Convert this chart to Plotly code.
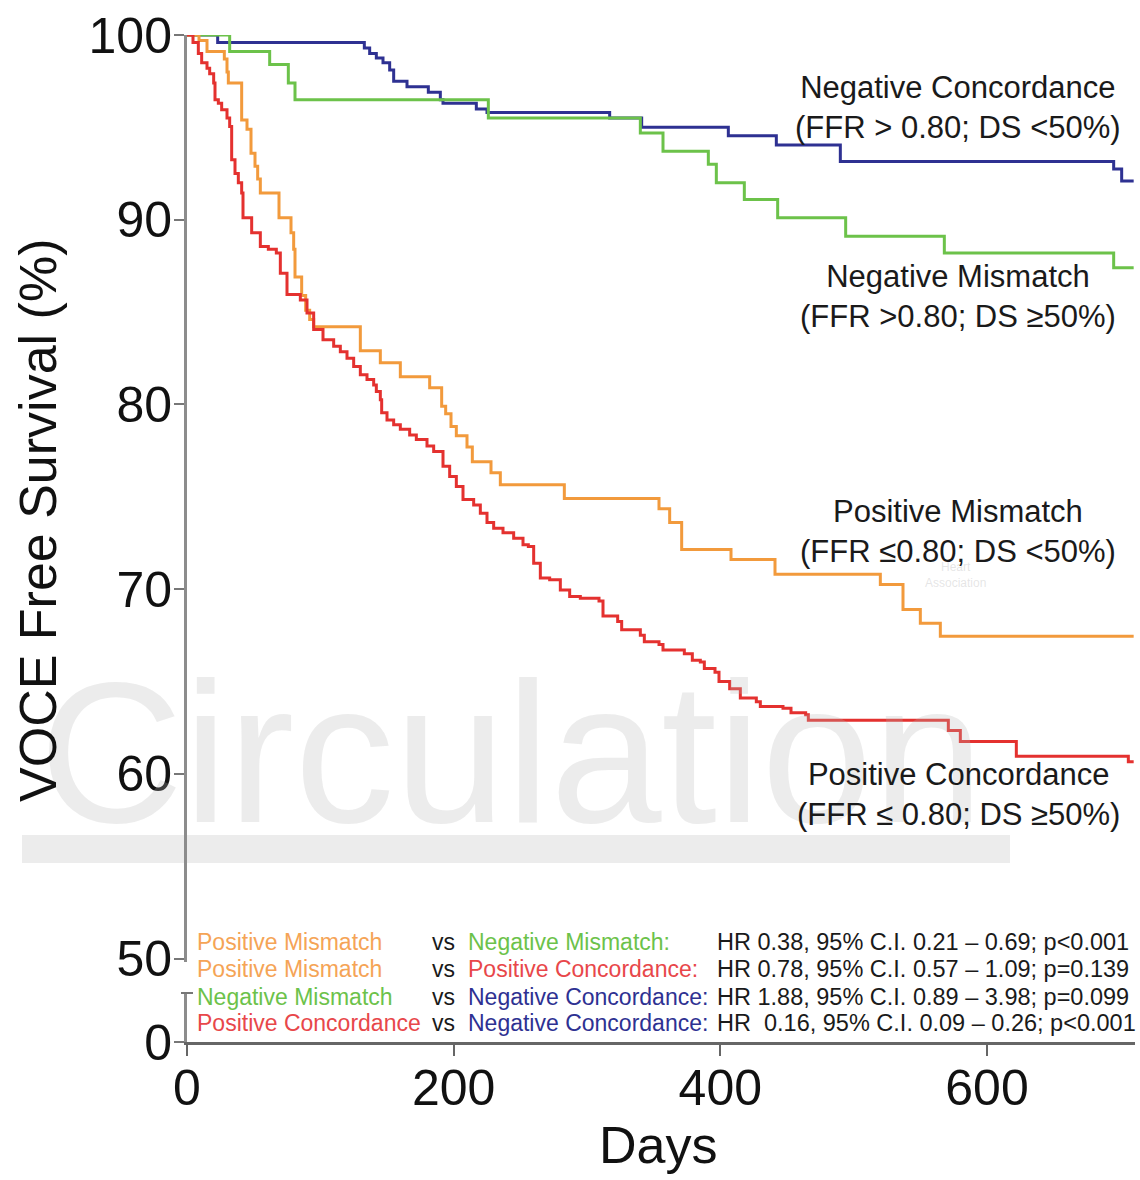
import plotly.graph_objects as go

# ---------------- data ----------------
days_neg_conc = [0, 23, 133, 137, 142, 147, 152, 155, 165, 181, 190, 192, 217, 225, 317, 341, 406, 442, 490, 695, 701, 710]
surv_neg_conc = [100, 99.6, 99.3, 99.0, 98.75, 98.5, 98.1, 97.5, 97.2, 96.9, 96.5, 96.3, 96.0, 95.8, 95.5, 95.0, 94.55, 94.05, 93.15, 92.75, 92.1, 92.1]

days_neg_mis = [0, 32, 62, 76, 81, 226, 340, 357, 391, 397, 418, 443, 494, 568, 695, 710]
surv_neg_mis = [100, 99.1, 98.4, 97.4, 96.5, 95.5, 94.7, 93.7, 93.0, 92.0, 91.1, 90.1, 89.1, 88.2, 87.4, 87.4]

days_pos_mis = [0, 9, 15, 28, 30, 31, 41, 45, 48, 51,
                53, 55, 69, 78, 80, 81, 86, 89, 92, 95,
                130, 145, 160, 182, 191, 194, 198, 202, 210, 214,
                228, 235, 283, 354, 362, 371, 408, 441, 520, 537,
                550, 565, 710]
surv_pos_mis = [100, 99.7, 99.1, 98.7, 98.0, 97.4, 95.4, 94.9, 93.6, 92.9,
                92.2, 91.45, 90.1, 89.3, 88.4, 86.9, 85.9, 85.1, 84.6, 84.2,
                82.9, 82.25, 81.5, 80.9, 79.9, 79.5, 78.8, 78.3, 77.7, 76.9,
                76.3, 75.65, 74.9, 74.35, 73.6, 72.15, 71.6, 70.8, 70.25, 68.9,
                68.15, 67.45, 67.45]

days_pos_conc = [0, 4.5, 8.5, 11, 15, 17, 20, 21, 23.5, 26,
                 30, 32, 33.5, 36, 38.5, 41, 42, 48.5, 55, 61,
                 67, 70, 75, 85, 90, 95, 102, 110, 115, 120,
                 125, 130, 135, 140, 142, 145, 146, 150, 155, 160,
                 167, 172, 180, 185, 192, 197, 202, 207, 215, 220,
                 225, 230, 237, 245, 252, 256, 260, 265, 272, 280,
                 287, 295, 309, 312, 323, 326, 340, 343, 354, 357,
                 373, 379, 385, 388, 396, 399, 407, 415, 427, 430,
                 447, 453, 464, 466, 571, 580, 622, 706, 710]
surv_pos_conc = [100, 99.6, 99.0, 98.5, 98.2, 97.9, 97.4, 96.5, 96.3, 95.95,
                 95.5, 95.05, 93.25, 92.5, 92.0, 91.45, 90.1, 89.3, 88.55, 88.4,
                 88.2, 87.1, 85.95, 85.65, 84.95, 84.05, 83.5, 83.15, 82.85, 82.5,
                 82.05, 81.6, 81.35, 81.05, 80.7, 80.25, 79.55, 79.15, 78.9, 78.65,
                 78.35, 78.1, 77.75, 77.45, 76.65, 76.1, 75.55, 74.85, 74.55, 74.1,
                 73.6, 73.3, 73.05, 72.75, 72.4, 72.3, 71.4, 70.6, 70.5, 69.95,
                 69.6, 69.5, 69.35, 68.55, 68.25, 67.8, 67.5, 67.15, 67.0, 66.7,
                 66.5, 66.15, 66.05, 65.7, 65.5, 65.0, 64.6, 64.1, 63.9, 63.65,
                 63.55, 63.3, 63.2, 62.9, 62.35, 61.75, 60.95, 60.65, 60.65]

y_ticks_main = [50, 60, 70, 80, 90, 100]
y_ticks_low = [0]
x_ticks = [0, 200, 400, 600]

group_labels = ["Negative Concordance<br>(FFR > 0.80; DS <50%)",
                "Negative Mismatch<br>(FFR >0.80; DS \u226550%)",
                "Positive Mismatch<br>(FFR \u22640.80; DS <50%)",
                "Positive Concordance<br>(FFR \u2264 0.80; DS \u226550%)"]

cmp_left = ["Positive Mismatch", "Positive Mismatch", "Negative Mismatch", "Positive Concordance"]
cmp_right = ["Negative Mismatch:", "Positive Concordance:", "Negative Concordance:", "Negative Concordance:"]
cmp_stats = ["HR 0.38, 95% C.I. 0.21 \u2013 0.69; p<0.001",
             "HR 0.78, 95% C.I. 0.57 \u2013 1.09; p=0.139",
             "HR 1.88, 95% C.I. 0.89 \u2013 3.98; p=0.099",
             "HR  0.16, 95% C.I. 0.09 \u2013 0.26; p<0.001"]

# ---------------- styling ----------------
C_BLUE = "#2e3192"
C_GREEN = "#6cc24a"
C_ORANGE = "#f29a3c"
C_RED = "#e4312f"
TXT_COL = {"Negative Concordance": "#2e3192", "Negative Mismatch": "#6cc24a",
           "Positive Mismatch": "#f5a456", "Positive Concordance": "#e8474a"}
FONT = "Liberation Sans, Arial, Helvetica, sans-serif"

W, H = 1140, 1180
PX_L, PX_R, PX_T, PX_B = 187, 1135, 35, 1042


def px_x(px):
    return (px - PX_L) / (PX_R - PX_L)


def px_y(py):
    return (PX_B - py) / (PX_B - PX_T)


fig = go.Figure()
series = [(days_neg_conc, surv_neg_conc, C_BLUE, "Negative Concordance"),
          (days_neg_mis, surv_neg_mis, C_GREEN, "Negative Mismatch"),
          (days_pos_mis, surv_pos_mis, C_ORANGE, "Positive Mismatch"),
          (days_pos_conc, surv_pos_conc, C_RED, "Positive Concordance")]
for d, s, c, n in series:
    fig.add_trace(go.Scatter(x=d, y=s, mode="lines", name=n,
                             line=dict(color=c, width=3, shape="hv"),
                             cliponaxis=False, showlegend=False,
                             xaxis="x", yaxis="y"))

# invisible trace so the lower (broken) axis segment is drawn
fig.add_trace(go.Scatter(x=[0], y=[0], mode="markers", marker=dict(size=1, opacity=0),
                         hoverinfo="skip", showlegend=False, xaxis="x", yaxis="y2"))

main_bottom_px = 962
px_per_unit = (958.5 - PX_T) / 50.0
main_range_low = 50 - (main_bottom_px - 958.5) / px_per_unit

annotations = []
# watermark
annotations.append(dict(text="Circulation", x=px_x(511), y=px_y(752), xref="paper", yref="paper",
                        showarrow=False, xanchor="center", yanchor="middle",
                        font=dict(family=FONT, size=200, color="rgba(180,180,180,0.26)")))
annotations.append(dict(text="Heart<br>Association", x=px_x(955), y=px_y(575), xref="paper", yref="paper",
                        showarrow=False, xanchor="center", yanchor="middle",
                        font=dict(family=FONT, size=12, color="rgba(180,180,180,0.35)")))

# group labels
label_centers_y = [107.5, 296.5, 531, 794]
for txt, cy in zip(group_labels, label_centers_y):
    annotations.append(dict(text=txt, x=px_x(958), y=px_y(cy), xref="paper", yref="paper",
                            showarrow=False, xanchor="center", yanchor="middle", align="center",
                            font=dict(family=FONT, size=31, color="#1a1a1a")))

# comparison table
row_y = [942, 969, 997, 1023]
for i in range(4):
    yy = px_y(row_y[i])
    annotations.append(dict(text=cmp_left[i], x=px_x(195), y=yy, xref="paper", yref="paper",
                            showarrow=False, xanchor="left", yanchor="middle",
                            font=dict(family=FONT, size=23, color=TXT_COL[cmp_left[i]])))
    annotations.append(dict(text="vs", x=px_x(430), y=yy, xref="paper", yref="paper",
                            showarrow=False, xanchor="left", yanchor="middle",
                            font=dict(family=FONT, size=23, color="#1a1a1a")))
    annotations.append(dict(text=cmp_right[i], x=px_x(466), y=yy, xref="paper", yref="paper",
                            showarrow=False, xanchor="left", yanchor="middle",
                            font=dict(family=FONT, size=23, color=TXT_COL[cmp_right[i].rstrip(':')])))
    annotations.append(dict(text=cmp_stats[i], x=px_x(715), y=yy, xref="paper", yref="paper",
                            showarrow=False, xanchor="left", yanchor="middle",
                            font=dict(family=FONT, size=23.5, color="#1a1a1a")))

# axis titles
annotations.append(dict(text="VOCE Free Survival (%)", x=px_x(38), y=px_y(521), xref="paper", yref="paper",
                        showarrow=False, textangle=-90, xanchor="center", yanchor="middle",
                        font=dict(family=FONT, size=52, color="#111111")))
annotations.append(dict(text="Days", x=px_x(658), y=px_y(1145), xref="paper", yref="paper",
                        showarrow=False, xanchor="center", yanchor="middle",
                        font=dict(family=FONT, size=52, color="#111111")))

shapes = [
    # watermark bar
    dict(type="rect", xref="paper", yref="paper", x0=px_x(22), x1=px_x(1010), y0=px_y(863), y1=px_y(835),
         fillcolor="#ececec", line=dict(width=0), layer="below"),
    # axis break tick
    dict(type="line", xref="paper", yref="paper", x0=px_x(181), x1=px_x(193), y0=px_y(993), y1=px_y(993),
         line=dict(color="#777777", width=2)),
]

tickfont = dict(family=FONT, size=50, color="#111111")
fig.update_layout(
    width=W, height=H,
    margin=dict(l=PX_L, r=W - PX_R, t=PX_T, b=H - PX_B),
    paper_bgcolor="white", plot_bgcolor="white",
    font=dict(family=FONT),
    showlegend=False,
    xaxis=dict(domain=[0, 1], range=[0, (PX_R - PX_L) / ((987 - 187) / 600)], anchor="y2",
               tickmode="array", tickvals=x_ticks, ticks="outside", ticklen=11, tickwidth=2,
               tickcolor="#666666", showline=True, linecolor="#666666", linewidth=3,
               showgrid=False, zeroline=False, tickfont=tickfont, ticklabelstandoff=-11),
    yaxis=dict(domain=[px_y(main_bottom_px), 1], range=[main_range_low, 100], anchor="x",
               tickmode="array", tickvals=y_ticks_main, ticks="outside", ticklen=10, tickwidth=2,
               tickcolor="#777777", showline=True, linecolor="#8c8c8c", linewidth=3,
               showgrid=False, zeroline=False, tickfont=tickfont, ticklabelstandoff=-8),
    yaxis2=dict(domain=[0, px_y(993)], range=[0, 1], anchor="x",
                tickmode="array", tickvals=y_ticks_low, ticks="outside", ticklen=10, tickwidth=2,
                tickcolor="#777777", showline=True, linecolor="#8c8c8c", linewidth=3,
                showgrid=False, zeroline=False, tickfont=tickfont, ticklabelstandoff=-8),
    annotations=annotations,
    shapes=shapes,
)

fig.write_html("out.html")
